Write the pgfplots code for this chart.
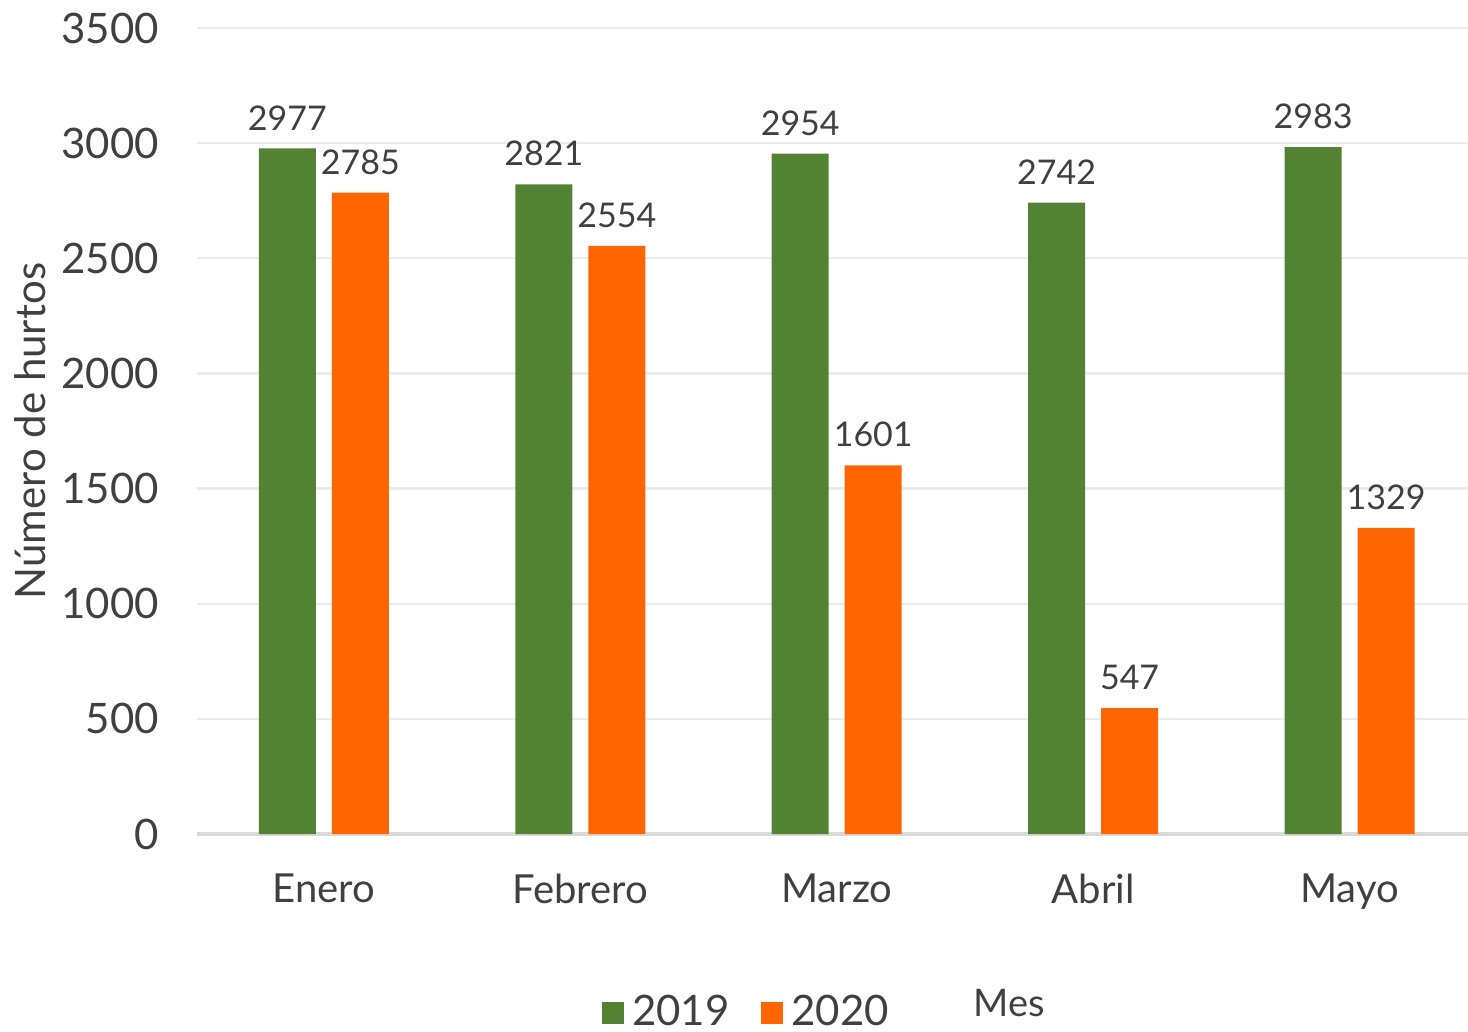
\documentclass[border=0pt]{standalone}
\usepackage{fontspec}
\setmainfont{Lato}
\usepackage{pgfplots}
\pgfplotsset{compat=1.18}
\definecolor{cgreen}{HTML}{548235}
\definecolor{corange}{HTML}{FF6600}
\definecolor{ctext}{HTML}{404040}
\definecolor{cgrid}{HTML}{EBEBEB}
\definecolor{caxis}{HTML}{D9D9D9}
\begin{document}
\begin{tikzpicture}
\path[use as bounding box] (-49.25pt,-49.25pt) rectangle (317.75pt,208.5pt);
\begin{axis}[
  at={(0,0)}, anchor=south west,
  scale only axis, width=317.75pt, height=201.5pt,
  ybar=4pt, bar width=14.25pt,
  xmin=-0.495, xmax=4.462, ymin=0, ymax=3500,
  xtick=data, xticklabels={Enero,Febrero,Marzo,Abril,Mayo},
  ytick={0,500,...,3500},
  ymajorgrids, grid style={cgrid, line width=0.6pt},
  axis x line*=bottom, axis y line*=left,
  separate axis lines,
  x axis line style={caxis, line width=0.8pt, -},
  y axis line style={draw=none},
  major tick length=0pt,
  yticklabel style={font=\fontsize{10.5}{13}\selectfont, text=ctext, xshift=-6pt},
  xticklabel style={font=\fontsize{10}{12}\selectfont, text=ctext, yshift=-6.5pt},
  /pgf/number format/assume math mode=true,
  scaled y ticks=false,
  yticklabel={\pgfmathprintnumber[1000 sep={}]{\tick}},
  ylabel={Número de hurtos},
  every axis y label/.style={at={(axis description cs:-0.1314,0.5)}, rotate=90, anchor=center,
    font=\fontsize{10.5}{13}\selectfont, text=ctext},
  nodes near coords,
  every node near coord/.append style={font=\fontsize{8.5}{10}\selectfont, text=ctext, /pgf/number format/1000 sep={}, /pgf/number format/assume math mode=true, yshift=1pt},
  legend columns=2,
  legend style={draw=none, fill=none, font=\fontsize{10.5}{13}\selectfont, text=ctext,
    at={(rel axis cs:0.4347,-0.2225)}, anchor=center,
    /tikz/every even column/.append style={column sep=6pt}},
  legend image code/.code={\fill[#1] (0pt,-2.75pt) rectangle (5.5pt,2.75pt);},
  clip=false,
]
\addplot[fill=cgreen, draw=none] coordinates {(0,2977) (1,2821) (2,2954) (3,2742) (4,2983)};
\addplot[fill=corange, draw=none] coordinates {(0,2785) (1,2554) (2,1601) (3,547) (4,1329)};
\legend{2019,2020}
\node[font=\fontsize{9.5}{12}\selectfont, text=ctext] at (rel axis cs:0.6389,-0.2097) {Mes};
\end{axis}
\end{tikzpicture}
\end{document}
